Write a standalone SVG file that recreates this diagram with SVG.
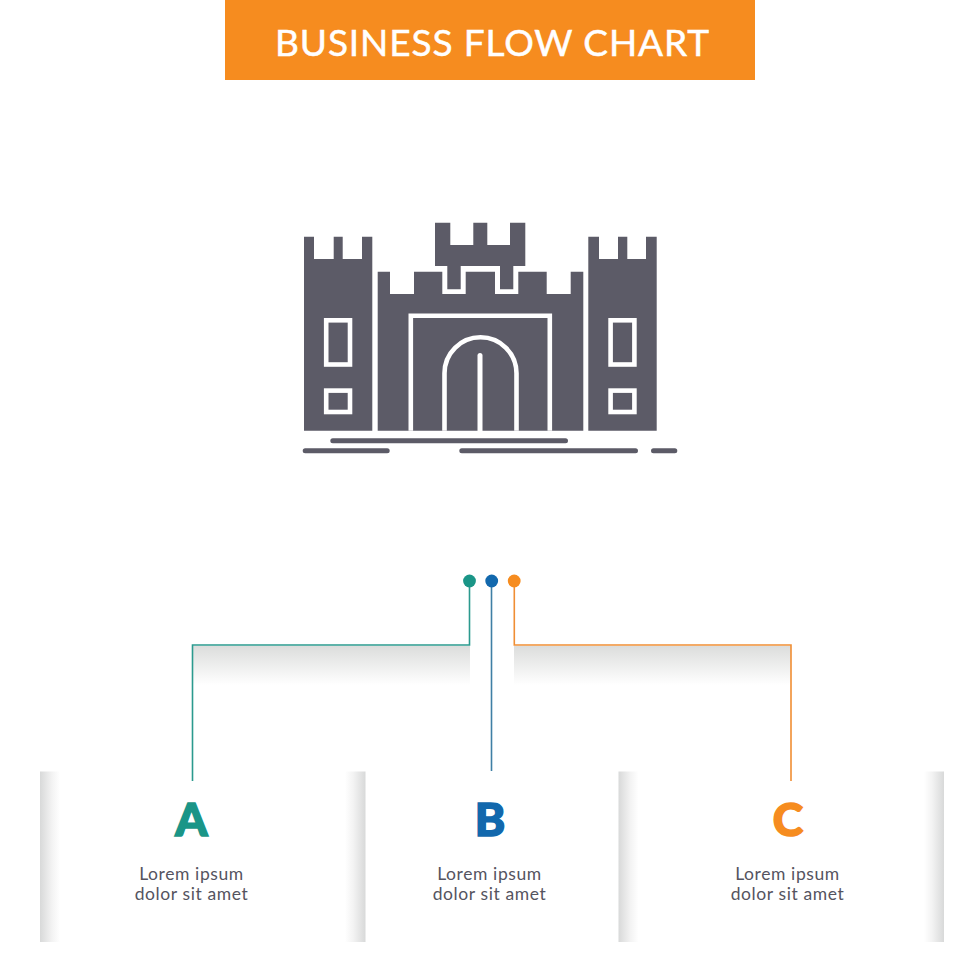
<svg xmlns="http://www.w3.org/2000/svg" width="980" height="980" viewBox="0 0 980 980">
<style>
.c{fill:#5c5b67}
.w{fill:none;stroke:#fff;stroke-width:4.6}
.g{stroke:#5c5b67;stroke-width:5;stroke-linecap:round;fill:none}
.t{font-family:"Lato","Liberation Sans",sans-serif;font-size:17.5px;font-weight:400;letter-spacing:.6px;fill:#55545f;text-anchor:middle}
.l{font-family:"Lato","Liberation Sans",sans-serif;font-weight:900;font-size:46px;text-anchor:middle;stroke-width:1.6}
.n{fill:none;stroke-width:1.6}
</style>
<defs>
<linearGradient id="sd" x1="0" y1="0" x2="0" y2="1"><stop offset="0" stop-color="#dcdddc"/><stop offset="1" stop-color="#fff"/></linearGradient>
<linearGradient id="sl" x1="0" y1="0" x2="1" y2="0"><stop offset="0" stop-color="#d8d9d9"/><stop offset=".6" stop-color="#f3f3f3"/><stop offset="1" stop-color="#fff"/></linearGradient>
<linearGradient id="sr" x1="1" y1="0" x2="0" y2="0"><stop offset="0" stop-color="#d8d9d9"/><stop offset=".6" stop-color="#f3f3f3"/><stop offset="1" stop-color="#fff"/></linearGradient>
</defs>
<rect width="980" height="980" fill="#fff"/>
<g id="header">
<rect x="225" y="0" width="530" height="80" fill="#f68c1f"/>
<text x="492" y="56" font-family="Lato,'Liberation Sans',sans-serif" font-size="37" fill="#fff" stroke="#fff" stroke-width=".5" text-anchor="middle" textLength="434" lengthAdjust="spacing">BUSINESS FLOW CHART</text>
</g>
<g id="castle">
<path class="c" d="M304 236.7H314V259H333.7V236.7H342.7V259H362V236.7H372.3V430.7H304Z"/>
<path class="c" d="M588.3 236.7H599V259H618V236.7H627.3V259H646V236.7H656.7V430.7H588.3Z"/>
<path class="c" d="M377.7 271.7H390V294H414V271.7H442.3V294H465.7V271.7H495V294H518.3V271.7H546.7V294H570.7V271.7H583.3V430.7H377.7Z"/>
<path class="c" d="M435 222.7H450.3V245H473.3V222.7H487.3V245H510V222.7H525.3V266H513.3V289.3H500V266H460.7V289.3H447.3V266H435Z"/>
<path class="w" d="M410.8 430.7V315.8H549.8V430.7"/>
<path class="w" d="M444.5 430.7V373.3A36 36 0 0 1 516.5 373.3V430.7"/>
<path d="M480 430.7V355.5" fill="none" stroke="#fff" stroke-width="5" stroke-linecap="round"/>
<rect class="w" x="326.2" y="320.3" width="23.8" height="44.2"/>
<rect class="w" x="326.2" y="390.6" width="23.8" height="21.4"/>
<rect class="w" x="610.6" y="320.3" width="23.8" height="44.2"/>
<rect class="w" x="610.6" y="390.6" width="23.8" height="21.4"/>
<path class="g" d="M332.8 440.7H565.5M305.2 450.7H387.2M461.8 450.7H635.5M653.5 450.7H674.8"/>
</g>
<g id="shadows">
<rect x="193" y="646" width="277" height="39" fill="url(#sd)"/>
<rect x="514" y="646" width="277" height="39" fill="url(#sd)"/>
</g>
<g id="connectors">
<path class="n" stroke="#2b9a8e" d="M469.5 581V645H192.5V781"/>
<path class="n" stroke="#3f7fa5" d="M491.5 581V771"/>
<path class="n" stroke="#f08e34" d="M514.3 581V645H791V781"/>
</g>
<g id="dot-a"><circle cx="469.5" cy="581" r="6.4" fill="#1a9587"/></g>
<g id="dot-b"><circle cx="491.7" cy="581" r="6.4" fill="#1268ad"/></g>
<g id="dot-c"><circle cx="514.2" cy="581" r="6.4" fill="#f68c1f"/></g>
<g id="node-a">
<rect x="40" y="771.5" width="20" height="170.5" fill="url(#sl)"/>
<rect x="345" y="771.5" width="20.5" height="170.5" fill="url(#sr)"/>
<text class="l" x="191.5" y="836" fill="#1a9587" stroke="#1a9587">A</text>
<text class="t" x="191.5" y="880">Lorem ipsum</text>
<text class="t" x="191.5" y="900">dolor sit amet</text>
</g>
<g id="node-b">
<text class="l" x="490" y="836" fill="#1268ad" stroke="#1268ad">B</text>
<text class="t" x="489.5" y="880">Lorem ipsum</text>
<text class="t" x="489.5" y="900">dolor sit amet</text>
</g>
<g id="node-c">
<rect x="618.5" y="771.5" width="20" height="170.5" fill="url(#sl)"/>
<rect x="924" y="771.5" width="20" height="170.5" fill="url(#sr)"/>
<text class="l" x="788" y="836" fill="#f68c1f" stroke="#f68c1f">C</text>
<text class="t" x="787.5" y="880">Lorem ipsum</text>
<text class="t" x="787.5" y="900">dolor sit amet</text>
</g>
</svg>
